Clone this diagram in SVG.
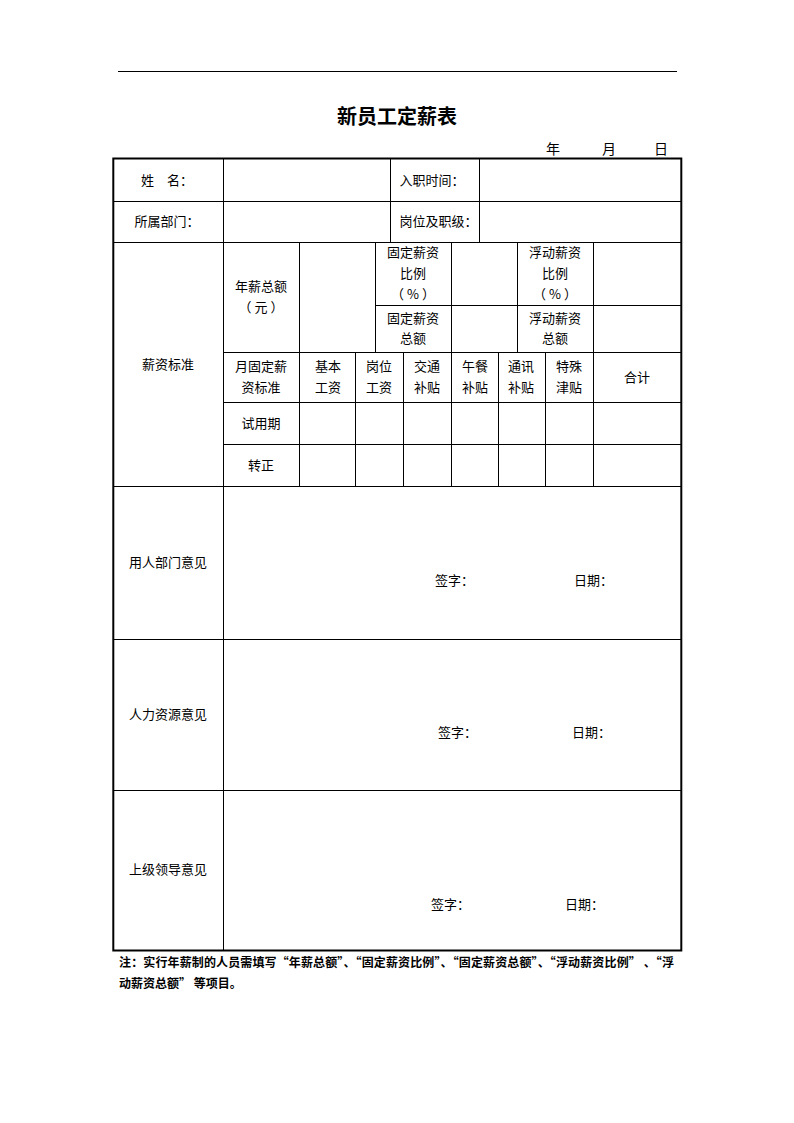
<svg xmlns="http://www.w3.org/2000/svg" width="794" height="1123" viewBox="0 0 794 1123">
<style>
text{font-family:"Noto Sans CJK SC","Liberation Sans",sans-serif;font-size:13px;fill:#000}
.c{text-anchor:middle}
.p{letter-spacing:3px}
.t{font-size:20px;font-weight:700}
.d{font-size:14px}
.n{font-size:12px;font-weight:700}
.ln line{stroke:#000;stroke-width:1}
</style>
<rect width="794" height="1123" fill="#fff"/>
<line x1="118" y1="71.5" x2="677" y2="71.5" stroke="#000" stroke-width="1"/>
<text class="t c" x="397" y="124">新员工定薪表</text>
<g id="date">
<text class="d c" x="553" y="154">年</text>
<text class="d c" x="609" y="154">月</text>
<text class="d c" x="661" y="154">日</text>
</g>
<g id="grid" class="ln">
<rect x="113.3" y="158.5" width="568" height="792" fill="none" stroke="#000" stroke-width="2"/>
<line x1="113" y1="201.5" x2="681" y2="201.5"/>
<line x1="113" y1="242.5" x2="681" y2="242.5"/>
<line x1="375.5" y1="305.5" x2="681" y2="305.5"/>
<line x1="223" y1="352.5" x2="681" y2="352.5"/>
<line x1="223" y1="402.5" x2="681" y2="402.5"/>
<line x1="223" y1="444.5" x2="681" y2="444.5"/>
<line x1="113" y1="486.5" x2="681" y2="486.5"/>
<line x1="113" y1="639.5" x2="681" y2="639.5"/>
<line x1="113" y1="790.5" x2="681" y2="790.5"/>
<line x1="223.5" y1="159" x2="223.5" y2="950"/>
<line x1="390.5" y1="159" x2="390.5" y2="242.5"/>
<line x1="479.5" y1="159" x2="479.5" y2="242.5"/>
<line x1="299.5" y1="242.5" x2="299.5" y2="486.5"/>
<line x1="375.5" y1="242.5" x2="375.5" y2="352.5"/>
<line x1="451.5" y1="242.5" x2="451.5" y2="486.5"/>
<line x1="517.5" y1="242.5" x2="517.5" y2="352.5"/>
<line x1="593.5" y1="242.5" x2="593.5" y2="486.5"/>
<line x1="355.5" y1="352.5" x2="355.5" y2="486.5"/>
<line x1="403.5" y1="352.5" x2="403.5" y2="486.5"/>
<line x1="498.5" y1="352.5" x2="498.5" y2="486.5"/>
<line x1="545.5" y1="352.5" x2="545.5" y2="486.5"/>
</g>
<g id="basic">
<text x="141" y="184.5">姓　名：</text>
<text x="134.5" y="225.5">所属部门：</text>
<text x="399.5" y="184.5">入职时间：</text>
<text x="399.5" y="225.5">岗位及职级：</text>
</g>
<g id="salary">
<text class="c" x="168" y="368.5">薪资标准</text>
<text class="c" x="261" y="290.5">年薪总额</text>
<text class="c p" x="262.5" y="311.5">（元）</text>
<text class="c" x="413" y="256.5">固定薪资</text>
<text class="c" x="413" y="277.5">比例</text>
<text class="c p" x="414.5" y="298.5">（%）</text>
<text class="c" x="413" y="322.5">固定薪资</text>
<text class="c" x="413" y="342.5">总额</text>
<text class="c" x="555" y="256.5">浮动薪资</text>
<text class="c" x="555" y="277.5">比例</text>
<text class="c p" x="556.5" y="298.5">（%）</text>
<text class="c" x="555" y="322.5">浮动薪资</text>
<text class="c" x="555" y="342.5">总额</text>
<text class="c" x="261" y="370.5">月固定薪</text>
<text class="c" x="261" y="391.5">资标准</text>
<text class="c" x="328" y="370.5">基本</text>
<text class="c" x="328" y="391.5">工资</text>
<text class="c" x="379" y="370.5">岗位</text>
<text class="c" x="379" y="391.5">工资</text>
<text class="c" x="427" y="370.5">交通</text>
<text class="c" x="427" y="391.5">补贴</text>
<text class="c" x="475" y="370.5">午餐</text>
<text class="c" x="475" y="391.5">补贴</text>
<text class="c" x="521" y="370.5">通讯</text>
<text class="c" x="521" y="391.5">补贴</text>
<text class="c" x="569" y="370.5">特殊</text>
<text class="c" x="569" y="391.5">津贴</text>
<text class="c" x="637" y="381.5">合计</text>
<text class="c" x="261" y="427.5">试用期</text>
<text class="c" x="261" y="469.5">转正</text>
</g>
<g id="dept">
<text class="c" x="168" y="566.5">用人部门意见</text>
<text x="435" y="584.5">签字：</text>
<text x="574" y="584.5">日期：</text>
</g>
<g id="hr">
<text class="c" x="168" y="718.5">人力资源意见</text>
<text x="438" y="736.5">签字：</text>
<text x="572" y="736.5">日期：</text>
</g>
<g id="leader">
<text class="c" x="168" y="873.5">上级领导意见</text>
<text x="431" y="908.5">签字：</text>
<text x="565" y="908.5">日期：</text>
</g>
<g id="note">
<text class="n" x="119" y="966.5" textLength="555" lengthAdjust="spacing">注：实行年薪制的人员需填写“年薪总额”、“固定薪资比例”、“固定薪资总额”、“浮动薪资比例” 、“浮</text>
<text class="n" x="119" y="987.5">动薪资总额” 等项目。</text>
</g>
</svg>
